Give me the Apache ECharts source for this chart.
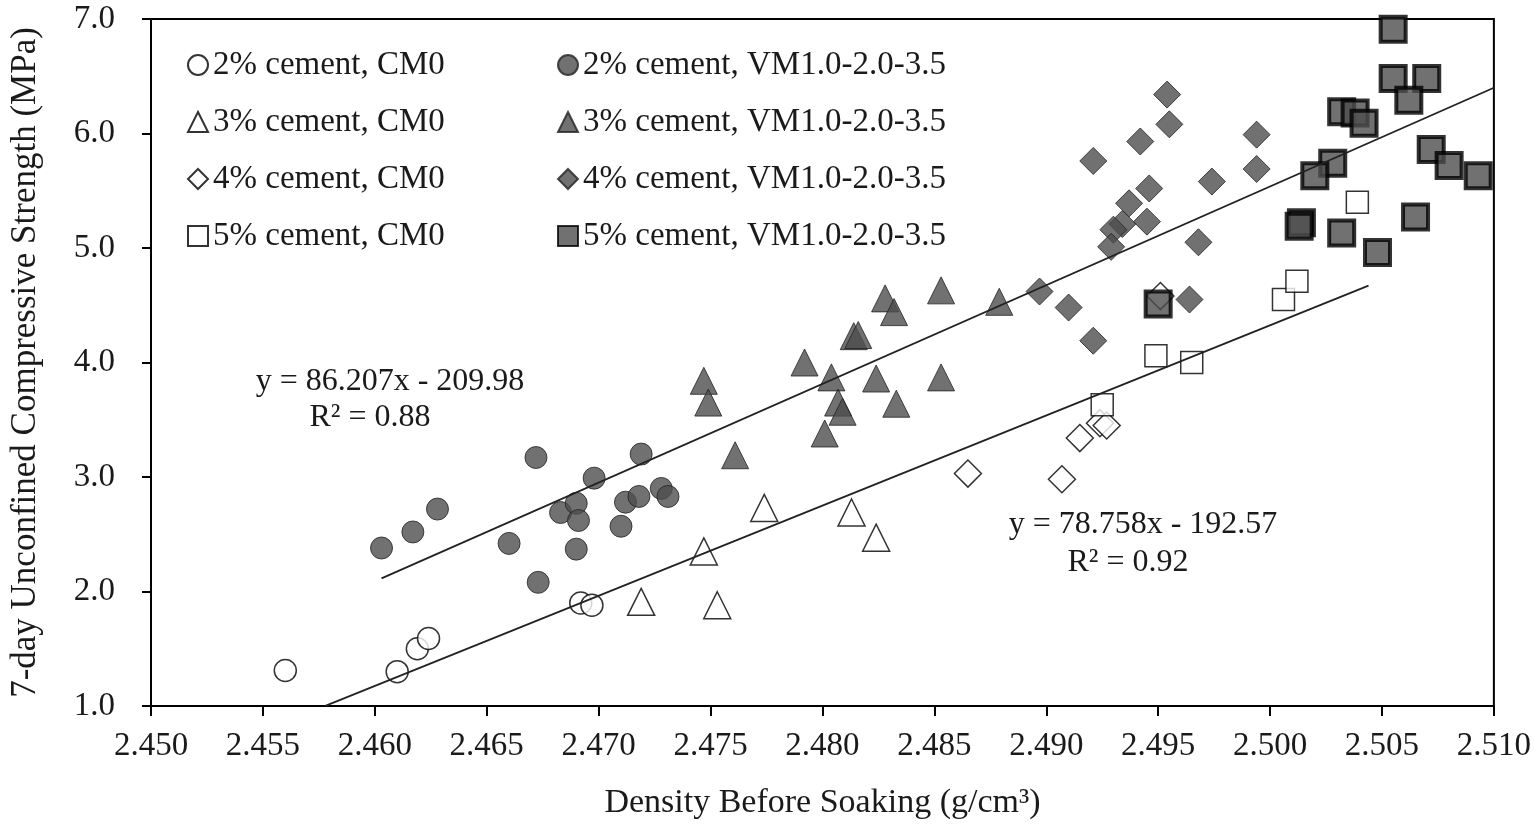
<!DOCTYPE html>
<html>
<head>
<meta charset="utf-8">
<title>7-day UCS vs density</title>
<script src="https://cdn.jsdelivr.net/npm/echarts@6/dist/echarts.min.js"></script>
<style>
  html, body { margin: 0; padding: 0; background: #fff; }
  #chart { width: 1534px; height: 834px; }
</style>
</head>
<body>
<div id="chart"></div>
<script>
// [density g/cm3, strength MPa]
const cm0_2 = [[2.4560, 1.31], [2.4610, 1.30], [2.4619, 1.50], [2.4624, 1.59], [2.4692, 1.90], [2.4697, 1.88]];
const vm_2 = [
  [2.4603, 2.38], [2.4617, 2.52], [2.4628, 2.72], [2.4672, 3.17], [2.4660, 2.42], [2.4673, 2.08],
  [2.4683, 2.69], [2.4690, 2.77], [2.4691, 2.62], [2.4690, 2.37], [2.4698, 2.99], [2.4710, 2.57],
  [2.4712, 2.78], [2.4718, 2.83], [2.4719, 3.20], [2.4728, 2.90], [2.4731, 2.83]
];
const cm0_3 = [[2.4719, 1.91], [2.4747, 2.35], [2.4753, 1.88], [2.4774, 2.73], [2.4813, 2.69], [2.4824, 2.47]];
const vm_3 = [
  [2.4747, 3.84], [2.4749, 3.65], [2.4761, 3.19], [2.4792, 4.00], [2.4804, 3.87], [2.4807, 3.65],
  [2.4809, 3.57], [2.4801, 3.38], [2.4814, 4.23], [2.4816, 4.24], [2.4824, 3.86], [2.4833, 3.64],
  [2.4828, 4.56], [2.4832, 4.44], [2.4853, 4.63], [2.4853, 3.87], [2.4879, 4.53]
];
const cm0_4 = [[2.4865, 3.03], [2.4907, 2.98], [2.4915, 3.34], [2.4924, 3.47], [2.4927, 3.45], [2.4951, 4.58]];
const vm_4 = [
  [2.4954, 6.34], [2.4955, 6.08], [2.4942, 5.93], [2.4921, 5.76], [2.4994, 5.99], [2.4994, 5.69],
  [2.4974, 5.58], [2.4946, 5.52], [2.4937, 5.39], [2.4934, 5.21], [2.4930, 5.16], [2.4945, 5.23],
  [2.4929, 5.01], [2.4968, 5.05], [2.4897, 4.62], [2.4910, 4.48], [2.4964, 4.55], [2.4921, 4.19]
];
const cm0_5 = [[2.4925, 3.63], [2.4949, 4.06], [2.4965, 4.00], [2.5006, 4.55], [2.5012, 4.71], [2.5039, 5.40]];
const vm_5 = [
  [2.5055, 6.91], [2.5055, 6.48], [2.5070, 6.48], [2.5062, 6.29], [2.5032, 6.19], [2.5038, 6.18],
  [2.5042, 6.09], [2.5028, 5.74], [2.5020, 5.63], [2.5072, 5.86], [2.5080, 5.72], [2.5093, 5.63],
  [2.5014, 5.22], [2.5013, 5.19], [2.5032, 5.13], [2.5065, 5.27], [2.5048, 4.96], [2.4950, 4.51]
];

// linear trend lines: slope, intercept, x range
const trendVM = { slope: 86.207, intercept: -209.98, from: 2.4603, to: 2.5100 };
const trendCM0 = { slope: 78.758, intercept: -192.57, from: 2.45779, to: 2.5044 };

const xTicks = { min: 2.45, max: 2.51, step: 0.005 };
const yTicks = { min: 1, max: 7, step: 1 };

const namesCM0 = ['2% cement, CM0', '3% cement, CM0', '4% cement, CM0', '5% cement, CM0'];
const namesVM = ['2% cement, VM1.0-2.0-3.5', '3% cement, VM1.0-2.0-3.5', '4% cement, VM1.0-2.0-3.5', '5% cement, VM1.0-2.0-3.5'];

const FONT = 'Liberation Serif';
const DARK = '#4d4d4d';
const INK = '#1a1a1a';

function trendData(t) {
  return [t.from, t.to].map(x => [x, t.slope * x + t.intercept]);
}

const chart = echarts.init(document.getElementById('chart'), null, { renderer: 'canvas' });

const open = { color: '#ffffff', borderColor: '#000', borderWidth: 1.5 };
const filled = { color: DARK, borderColor: '#222', borderWidth: 1 };

const option = {
  animation: false,
  backgroundColor: '#fff',
  grid: {
    left: 147, right: 35, top: 19, bottom: 128,
    show: true, borderColor: '#000', borderWidth: 2
  },
  legend: [
    {
      data: namesCM0, orient: 'vertical', left: 182, top: 43,
      itemWidth: 20, itemHeight: 20, itemGap: 23,
      textStyle: { fontFamily: FONT, fontSize: 33, color: INK, lineHeight: 34 }
    },
    {
      data: namesVM, orient: 'vertical', left: 552, top: 43,
      itemWidth: 20, itemHeight: 20, itemGap: 23,
      textStyle: { fontFamily: FONT, fontSize: 33, color: INK, lineHeight: 34 }
    }
  ],
  xAxis: {
    type: 'value', min: xTicks.min, max: xTicks.max, interval: xTicks.step,
    name: 'Density Before Soaking (g/cm³)', nameLocation: 'middle', nameGap: 80,
    nameTextStyle: { fontFamily: FONT, fontSize: 34, color: INK },
    axisLine: { show: true, onZero: false, lineStyle: { color: '#000', width: 2 } },
    axisTick: { show: true, inside: false, length: 10, lineStyle: { color: '#000', width: 2 } },
    axisLabel: { fontFamily: FONT, fontSize: 33, color: INK, margin: 24, formatter: v => v.toFixed(3) },
    splitLine: { show: false }
  },
  yAxis: {
    type: 'value', min: yTicks.min, max: yTicks.max, interval: yTicks.step,
    name: '7-day Unconfined Compressive Strength (MPa)', nameLocation: 'middle', nameGap: 108,
    nameRotate: 90,
    nameTextStyle: { fontFamily: FONT, fontSize: 35, color: INK },
    axisLine: { show: true, onZero: false, lineStyle: { color: '#000', width: 2 } },
    axisTick: { show: true, inside: false, length: 9, lineStyle: { color: '#000', width: 2 } },
    axisLabel: { fontFamily: FONT, fontSize: 33, color: INK, margin: 36, formatter: v => v.toFixed(1) },
    splitLine: { show: false }
  },
  series: [
    { name: namesCM0[0], type: 'scatter', data: cm0_2, symbol: 'circle', symbolSize: 22, itemStyle: open, z: 3 },
    { name: namesVM[0], type: 'scatter', data: vm_2, symbol: 'circle', symbolSize: 22, itemStyle: filled, z: 3 },
    { name: namesCM0[1], type: 'scatter', data: cm0_3, symbol: 'triangle', symbolSize: 27, itemStyle: open, z: 3 },
    { name: namesVM[1], type: 'scatter', data: vm_3, symbol: 'triangle', symbolSize: 27, itemStyle: filled, z: 3 },
    { name: namesCM0[2], type: 'scatter', data: cm0_4, symbol: 'diamond', symbolSize: 27, itemStyle: open, z: 3 },
    { name: namesVM[2], type: 'scatter', data: vm_4, symbol: 'diamond', symbolSize: 27, itemStyle: filled, z: 3 },
    { name: namesCM0[3], type: 'scatter', data: cm0_5, symbol: 'rect', symbolSize: 22, itemStyle: open, z: 3 },
    { name: namesVM[3], type: 'scatter', data: vm_5, symbol: 'rect', symbolSize: 25, itemStyle: { color: DARK, borderColor: '#000', borderWidth: 4 }, z: 4 },
    {
      type: 'line', data: trendData(trendVM), showSymbol: false, symbol: 'none', silent: true, z: 5,
      lineStyle: { color: '#222', width: 1.8 }
    },
    {
      type: 'line', data: trendData(trendCM0), showSymbol: false, symbol: 'none', silent: true, z: 5,
      lineStyle: { color: '#222', width: 1.8 }
    }
  ],
  graphic: [
    { type: 'text', x: 390, y: 382, style: { text: 'y = 86.207x - 209.98', fontFamily: FONT, fontSize: 32, fill: INK, align: 'center', verticalAlign: 'middle' } },
    { type: 'text', x: 370, y: 418, style: { text: 'R² = 0.88', fontFamily: FONT, fontSize: 32, fill: INK, align: 'center', verticalAlign: 'middle' } },
    { type: 'text', x: 1143, y: 525, style: { text: 'y = 78.758x - 192.57', fontFamily: FONT, fontSize: 32, fill: INK, align: 'center', verticalAlign: 'middle' } },
    { type: 'text', x: 1128, y: 563, style: { text: 'R² = 0.92', fontFamily: FONT, fontSize: 32, fill: INK, align: 'center', verticalAlign: 'middle' } }
  ]
};

chart.setOption(option);
</script>
</body>
</html>
